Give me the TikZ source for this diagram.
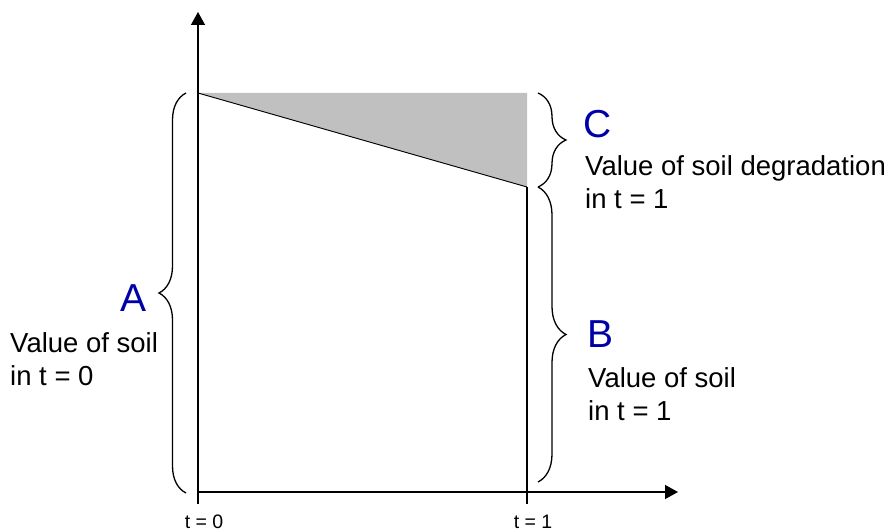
\documentclass[tikz,border=0pt]{standalone}
\usepackage{fontspec}
\setmainfont{Liberation Sans}
\usetikzlibrary{positioning,arrows.meta,calc}
\usetikzlibrary{decorations.pathreplacing}
\definecolor{letterblue}{RGB}{0,0,168}
\definecolor{lossgrey}{RGB}{192,192,192}
\tikzset{
  axis/.style={line width=1.3pt, -{Triangle[length=13pt,width=14pt]}},
  bracket/.style={decorate, line width=1.3pt, decoration={brace,amplitude=27pt}},
  bigletter/.style={text=letterblue, inner sep=0pt, font=\fontsize{39}{39}\selectfont},
  valuetext/.style={inner sep=0pt, align=left, anchor=north west, font=\fontsize{27.5}{33}\selectfont},
  ticktext/.style={inner sep=0pt, anchor=base, font=\fontsize{19.5}{22}\selectfont}
}

\begin{document}
\begin{tikzpicture}[x=1pt,y=-1pt]
  \useasboundingbox (0,0) rectangle (889,532);
  \coordinate (o) at (198,492);
  \coordinate (ytip) at (198,12);
  \coordinate (xtip) at (678,492);
  \coordinate (tick0) at (198,504);
  \coordinate (tick1) at (527,504);
  \coordinate (top0) at (198,93);
  \coordinate (top1) at (527,93);
  \coordinate (bot1) at (527,187);
  % brace ends
  \coordinate (abot) at (186,493);
  \coordinate (atop) at (186,93);
  \coordinate (ctop) at (538,93);
  \coordinate (cbot) at (538,187);
  \coordinate (bbot) at (538,482);

  \fill[lossgrey] (top0) -- (top1) -- (bot1) -- cycle;
  \draw[line width=0.9pt] (top0) -- (bot1);
  \draw[line width=1.3pt] (tick1) -- (bot1);
  \draw[axis] (tick0) -- (ytip);
  \draw[axis] (o) -- (xtip);

  \draw[bracket] (abot) -- (atop);
  \draw[bracket, decoration={amplitude=28pt}] (ctop) -- (cbot);
  \draw[bracket, decoration={amplitude=28pt}] (cbot) -- (bbot);

  \node[bigletter] (la) at (134,298) {A};
  \node[bigletter] (lb) at (601,334) {B};
  \node[bigletter] (lc) at (598,124) {C};
  \node[valuetext] (ta) at (10,332) {Value of soil\\in t = 0};
  \node[valuetext] (tb) at (588,367) {Value of soil\\in t = 1};
  \node[valuetext] (tc) at (585,155) {Value of soil degradation\\in t = 1};

  \node[ticktext] (t0) at (204,528) {t = 0};
  \node[ticktext] (t1) at (533,528) {t = 1};
\end{tikzpicture}
\end{document}
